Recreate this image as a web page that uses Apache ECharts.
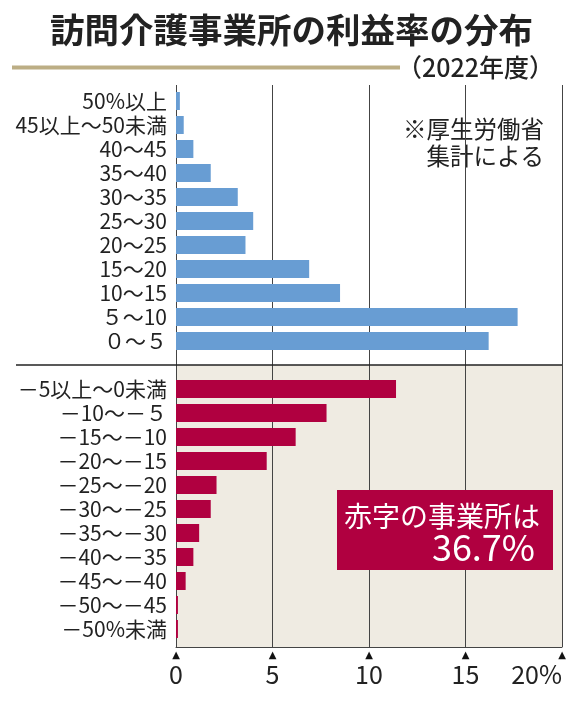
<!DOCTYPE html>
<html>
<head>
<meta charset="utf-8">
<script src="https://cdn.jsdelivr.net/npm/echarts@6/dist/echarts.min.js"></script>
<style>
html,body{margin:0;padding:0;background:#fff;}
#c{width:580px;height:702px;}
</style>
</head>
<body>
<div id="c"></div>
<script>
// ---- data ----
const upperCategories = ['50%以上', '45以上～50未満', '40～45', '35～40', '30～35', '25～30', '20～25', '15～20', '10～15', '５～10', '０～５'];
const upperValues = [0.2, 0.4, 0.9, 1.8, 3.2, 4.0, 3.6, 6.9, 8.5, 17.7, 16.2];
const lowerCategories = ['－5以上～0未満', '－10～－５', '－15～－10', '－20～－15', '－25～－20', '－30～－25', '－35～－30', '－40～－35', '－45～－40', '－50～－45', '－50%未満'];
const lowerValues = [11.4, 7.8, 6.2, 4.7, 2.1, 1.8, 1.2, 0.9, 0.5, 0.1, 0.1];
const xTicks = [0, 5, 10, 15, 20];
const titleText = '訪問介護事業所の利益率の分布';
const subTitleText = '（2022年度）';
const noteText = '※厚生労働省\n集計による';
const deficitLabel = '赤字の事業所は';
const deficitValue = '36.7%';

// ---- build ----
const categories = upperCategories.concat([''], lowerCategories);
const blueData = upperValues.concat(new Array(1 + lowerValues.length).fill(null));
const redData = new Array(upperValues.length + 1).fill(null).concat(lowerValues);

const FONT = '"Noto Sans CJK JP", "Noto Sans", sans-serif';
const BLUE = '#689dd3';
const RED = '#b00040';
const BEIGE = '#efebe2';
const LINE = '#444';
const xMin = xTicks[0], xMax = xTicks[xTicks.length - 1], xInt = xTicks[1] - xTicks[0];

const chart = echarts.init(document.getElementById('c'));
const baseX = {type: 'value', min: xMin, max: xMax, interval: xInt};
chart.setOption({
  animation: false,
  grid: [
    {left: 176, right: 18, top: 85, height: 280, show: true, backgroundColor: '#fff', borderWidth: 0},
    {left: 176, right: 18, top: 365, height: 282, show: true, backgroundColor: BEIGE, borderWidth: 0},
    {left: 176, right: 18, top: 89, height: 552, show: false}
  ],
  xAxis: [
    Object.assign({}, baseX, {gridIndex: 0, axisLine: {show: false}, axisTick: {show: false}, axisLabel: {show: false},
      splitLine: {show: true, lineStyle: {color: LINE, width: 1}}}),
    Object.assign({}, baseX, {gridIndex: 1, axisLine: {show: true, lineStyle: {color: LINE, width: 1}}, axisTick: {show: false},
      axisLabel: {show: true, formatter: () => '▲', fontSize: 10, color: '#111', margin: 3, fontFamily: 'DejaVu Sans'},
      splitLine: {show: true, lineStyle: {color: LINE, width: 1}}}),
    Object.assign({}, baseX, {gridIndex: 2, axisLine: {show: false}, axisTick: {show: false}, splitLine: {show: false},
      axisLabel: {show: true, formatter: v => v === xMax ? v + '%' : String(v), fontSize: 25, color: '#222',
        fontFamily: FONT, margin: 21, alignMaxLabel: 'right'}})
  ],
  yAxis: [
    {type: 'value', gridIndex: 0, show: false},
    {type: 'value', gridIndex: 1, show: false},
    {type: 'category', gridIndex: 2, data: categories, inverse: true,
      axisLine: {show: false}, axisTick: {show: false}, splitLine: {show: false},
      axisLabel: {interval: 0, fontSize: 21, color: '#222', fontFamily: FONT, margin: 9}}
  ],
  series: [
    {type: 'bar', xAxisIndex: 2, yAxisIndex: 2, data: blueData, barWidth: 18, barGap: '-100%', itemStyle: {color: BLUE}},
    {type: 'bar', xAxisIndex: 2, yAxisIndex: 2, data: redData, barWidth: 18, barGap: '-100%', itemStyle: {color: RED}}
  ],
  graphic: [
    {type: 'text', style: {text: titleText, x: 50, y: 30, font: 'bold 34.5px ' + FONT, fill: '#222', align: 'left', verticalAlign: 'middle'}},
    {type: 'rect', shape: {x: 12, y: 65.5, width: 388, height: 4}, style: {fill: '#bcae85'}},
    {type: 'text', style: {text: subTitleText, x: 554, y: 67, font: '500 25px ' + FONT, fill: '#222', align: 'right', verticalAlign: 'middle'}},
    {type: 'line', shape: {x1: 16, y1: 365, x2: 562, y2: 365}, style: {stroke: '#222', lineWidth: 1.5}, z: 100},
    {type: 'text', style: {text: noteText, x: 544, y: 143, font: '23.5px ' + FONT, fill: '#222', align: 'right', verticalAlign: 'middle', lineHeight: 27}},
    {type: 'rect', shape: {x: 337, y: 490, width: 216, height: 80}, style: {fill: RED}, z: 10},
    {type: 'text', style: {text: deficitLabel, x: 344, y: 516, font: '28px ' + FONT, fill: '#fff', align: 'left', verticalAlign: 'middle'}, z: 11},
    {type: 'text', style: {text: deficitValue, x: 535, y: 547, font: '36px ' + FONT, fill: '#fff', align: 'right', verticalAlign: 'middle'}, z: 11}
  ]
});
</script>
</body>
</html>
